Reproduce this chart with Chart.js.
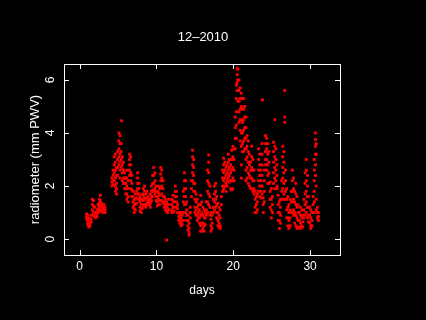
<!DOCTYPE html>
<html>
<head>
<meta charset="utf-8">
<script src="https://cdn.jsdelivr.net/npm/chart.js@4/dist/chart.umd.min.js"></script>
<style>
    body { margin: 0; background: #000; }
    canvas { display: block; }
</style>
</head>
<body>
<canvas id="pwvChart" width="426" height="320"></canvas>
<script>

const chartTitle = '12–2010';
const xTitle = 'days';
const yTitle = 'radiometer (mm PWV)';
const xTicks = [0, 10, 20, 30];
const yTicks = [0, 2, 4, 6];

// sample times (days) and the readings taken around each time
const colDays = [
    0.9, 1.05, 1.2, 1.35, 1.5, 1.65, 1.8, 1.95, 2.1, 2.25, 2.4, 2.55, 2.7, 2.85, 3.0, 3.15, 3.3,
    4.2, 4.35, 4.5, 4.65, 4.8, 4.95, 5.1, 5.25, 5.4, 5.45, 5.55, 5.7, 5.85, 6.0, 6.15, 6.3, 6.5, 6.65, 6.8, 6.95,
    7.1, 7.25, 7.4, 7.55, 7.7, 7.85, 8.0, 8.15, 8.3, 8.45, 8.6, 8.75, 8.9, 9.05, 9.2, 9.35, 9.5, 9.65, 9.8, 9.95,
    10.1, 10.25, 10.4, 10.55, 10.7, 10.85, 11.0, 11.15, 11.3, 11.32, 11.45, 11.6, 12.0, 12.15, 12.3, 12.45, 12.6, 12.75, 12.9,
    13.05, 13.2, 13.35, 13.5, 13.65, 13.8, 13.95, 14.1, 14.25, 14.4, 14.55, 14.7, 14.85, 15.0, 15.15, 15.3, 15.45, 15.6, 15.75, 15.9,
    16.05, 16.2, 16.35, 16.5, 16.65, 16.8, 16.95, 17.1, 17.25, 17.4, 17.55, 17.7, 17.85, 18.0, 18.15, 18.3, 18.45, 18.6, 18.75, 18.9,
    19.05, 19.2, 19.35, 19.5, 19.65, 19.8, 19.95, 20.1, 20.25, 20.4, 20.5, 20.6, 20.75, 20.9, 21.05, 21.2, 21.35, 21.5, 21.65, 21.8, 21.95,
    22.1, 22.25, 22.4, 22.55, 22.7, 22.85, 23.0, 23.15, 23.3, 23.45, 23.6, 23.75, 23.8, 23.9, 24.05, 24.2, 24.35, 24.5, 24.65, 24.8, 24.95,
    25.1, 25.25, 25.4, 25.55, 25.7, 25.85, 26.0, 26.15, 26.3, 26.45, 26.6, 26.7, 26.8, 26.95, 27.1, 27.25, 27.4, 27.55, 27.7, 27.85,
    28.0, 28.15, 28.3, 28.45, 28.6, 28.75, 28.9, 29.05, 29.2, 29.35, 29.5, 29.65, 29.8, 29.95, 30.1, 30.25, 30.4, 30.55, 30.7, 30.8, 30.95, 31.1
];

const colPwv = [
    [0.95, 0.85, 0.75], [0.9, 0.7, 0.6, 0.55], [0.8, 0.6, 0.5, 0.45], [0.75, 0.6, 0.5], [0.9, 0.75, 0.65],
    [1.5, 1.3, 1.1, 0.9], [1.45, 1.25, 1.0], [1.2, 1.0, 0.85], [1.0, 0.9, 0.8], [1.1, 0.95, 0.85],
    [1.3, 1.15, 1.0], [1.5, 1.35, 1.2, 1.05], [1.65, 1.45, 1.25, 1.1], [1.35, 1.2, 1.05], [1.25, 1.1, 1.0],
    [1.3, 1.15, 1.05], [1.2, 1.1, 1.0],
    [2.3, 2.15, 2.0], [2.6, 2.4, 2.2, 2.05], [3.1, 2.8, 2.5, 2.2], [3.2, 2.9, 2.6, 2.3, 2.0, 1.8],
    [2.7, 2.4, 2.1, 1.9, 1.7], [3.3, 3.0, 2.7, 2.4], [4.0, 3.7, 3.4, 3.1, 2.8], [3.9, 3.6, 3.2, 2.9, 2.6, 2.3],
    [3.6, 3.3, 3.0, 2.7], [4.46], [3.1, 2.8, 2.5, 2.2], [2.9, 2.6, 2.3, 2.1], [2.5, 2.3, 2.1, 1.9],
    [2.3, 2.1, 1.9, 1.7], [2.6, 2.3, 2.0, 1.7, 1.5], [2.2, 1.9, 1.6, 1.4], [3.2, 3.0, 2.8, 2.6, 2.4],
    [3.1, 2.8, 2.5, 2.2, 1.9], [2.4, 2.1, 1.85, 1.6], [1.8, 1.6, 1.4, 1.2],
    [1.5, 1.3, 1.15, 1.0], [1.7, 1.5, 1.3, 1.1], [1.8, 1.55, 1.35], [2.5, 2.3, 2.1, 1.9, 1.7], [2.1, 1.9, 1.7, 1.5],
    [1.6, 1.4, 1.2, 1.05], [1.5, 1.3, 1.15, 1.0], [1.7, 1.5, 1.3, 1.15], [1.9, 1.65, 1.45, 1.25], [2.0, 1.8, 1.55, 1.3],
    [1.7, 1.5, 1.3, 1.2], [1.8, 1.55, 1.35], [1.6, 1.45, 1.3], [1.5, 1.4, 1.3], [1.7, 1.5, 1.35, 1.2],
    [2.0, 1.8, 1.6, 1.45], [2.4, 2.1, 1.85, 1.6], [2.7, 2.4, 2.1, 1.8], [2.5, 2.2, 1.9, 1.7], [2.0, 1.8, 1.6, 1.45],
    [1.8, 1.6, 1.4, 1.25], [2.0, 1.75, 1.5, 1.3], [1.9, 1.65, 1.45, 1.3], [2.7, 2.45, 2.2, 1.95], [2.6, 2.3, 2.0, 1.7, 1.45],
    [2.2, 1.9, 1.6, 1.35], [1.6, 1.4, 1.2], [1.5, 1.3, 1.1], [1.4, 1.2, 1.05], [-0.04], [1.3, 1.15, 1.0], [1.5, 1.3, 1.1],
    [1.5, 1.3, 1.1, 1.0], [1.65, 1.45, 1.2, 1.0], [1.4, 1.2, 1.05], [2.0, 1.8, 1.6], [1.8, 1.6, 1.4, 1.2], [1.3, 1.15, 1.0],
    [1.0, 0.85, 0.7],
    [0.9, 0.75, 0.6], [1.0, 0.8, 0.6, 0.5], [0.9, 0.7, 0.55], [1.8, 1.4, 1.0, 0.7], [2.5, 2.2, 1.9, 1.6, 1.3],
    [2.2, 1.9, 1.6, 1.3, 1.0], [1.4, 1.1, 0.9, 0.7], [0.9, 0.7, 0.5, 0.35], [0.6, 0.4, 0.25, 0.15], [1.2, 1.0, 0.8],
    [2.2, 1.9, 1.6], [3.35, 3.1, 2.8, 2.5, 2.2], [3.0, 2.7, 2.4, 2.1, 1.8], [2.1, 1.8, 1.5, 1.2, 1.0],
    [1.7, 1.4, 1.1, 0.9], [1.5, 1.2, 0.9, 0.7], [1.3, 1.0, 0.8], [1.1, 0.8, 0.6], [1.65, 1.3, 0.9, 0.5, 0.3],
    [1.4, 1.0, 0.6, 0.3],
    [1.2, 0.9, 0.6, 0.4], [1.1, 0.8, 0.5, 0.3], [1.0, 0.8, 0.55], [1.4, 1.1, 0.9], [2.6, 2.2, 1.8, 1.4, 1.0],
    [3.17, 2.9, 2.5, 2.1, 1.7, 1.3], [2.0, 1.6, 1.2, 0.9], [1.0, 0.75, 0.5, 0.3], [0.9, 0.6, 0.4], [1.5, 1.2, 1.0],
    [2.0, 1.7, 1.4, 1.1], [2.1, 1.8, 1.5, 1.2], [1.6, 1.3, 1.0, 0.8], [1.35, 1.0, 0.7, 0.5], [1.2, 0.9, 0.6, 0.45],
    [1.1, 0.8, 0.5, 0.4], [1.6, 1.3], [2.6, 2.3, 2.0, 1.8], [3.05, 2.8, 2.5, 2.2, 1.9], [2.9, 2.6, 2.3, 2.0],
    [2.7, 2.4, 2.1, 1.8], [2.8, 2.5, 2.2, 2.0], [3.2, 2.9, 2.6, 2.3], [3.0, 2.7, 2.4, 2.15], [2.8, 2.5, 2.2, 1.9],
    [3.35, 3.0, 2.6, 2.2, 1.85], [3.5, 3.1, 2.7, 2.3, 1.9], [3.4, 3.0, 2.6, 2.2], [4.6, 4.2, 3.8, 3.4],
    [5.8, 5.3, 4.8, 4.3, 3.8], [6.45, 6.2, 5.9, 5.6], [6.4, 6.0, 5.6, 5.2], [6.0, 5.6, 5.2, 4.8, 4.4],
    [5.7, 5.3, 4.9, 4.5, 4.1, 3.7], [5.5, 5.0, 4.5, 4.0, 3.5, 2.8, 2.3], [5.3, 4.9, 4.4, 4.0, 3.6, 3.3],
    [5.3, 4.9, 4.5, 4.1, 3.7, 3.3], [5.0, 4.6, 4.2, 3.8, 3.4], [4.6, 4.2, 3.8, 3.4, 3.0, 2.6, 2.2],
    [3.9, 3.5, 3.1, 2.7, 2.3], [3.7, 3.3, 2.9, 2.5, 2.1],
    [3.2, 2.8, 2.4, 2.0], [2.9, 2.6, 2.3, 1.9], [3.5, 3.1, 2.7, 2.3, 1.9], [3.0, 2.6, 2.2, 1.8], [2.6, 2.2, 1.9, 1.7],
    [1.8, 1.5, 1.2, 1.0], [1.6, 1.3, 1.0], [1.7, 1.4, 1.1], [3.4, 3.0, 2.6, 2.2, 1.8], [3.2, 2.8, 2.4, 2.0, 1.6],
    [2.6, 2.2, 1.8, 1.55], [3.6, 3.2, 2.8, 2.4, 2.0, 1.7], [5.25], [1.55, 1.3, 1.0], [2.6, 2.2, 1.8, 1.4],
    [3.9, 3.6, 3.3, 3.0, 2.8], [3.8, 3.4, 3.0, 2.6], [3.6, 3.2, 2.8, 2.4, 2.1], [3.3, 2.9, 2.5, 2.1],
    [2.15, 1.8, 1.5, 1.2], [1.9, 1.5, 1.1, 0.8],
    [1.6, 1.3, 1.0], [3.65, 3.3, 2.9, 2.5, 2.1], [4.5, 3.5, 3.1, 2.7, 2.3, 1.9], [3.4, 3.0, 2.6, 2.2], [2.8, 2.4, 2.0, 1.9],
    [1.65, 1.3, 1.0, 0.7], [1.4, 1.0, 0.7, 0.4], [1.5, 1.2, 0.9, 0.6], [2.2, 1.8, 1.5], [3.5, 3.1, 2.7, 2.3, 1.9, 1.5],
    [3.3, 2.9, 2.5, 2.1, 1.7], [5.6, 4.6, 4.4], [2.6, 2.2, 1.8, 1.5], [1.9, 1.5, 1.1, 0.8], [1.6, 1.2, 0.8, 0.5],
    [1.3, 1.0, 0.7, 0.4], [1.5, 1.1, 0.8, 0.5], [1.8, 1.4, 1.0], [2.6, 2.2, 1.8, 1.4, 1.0], [2.3, 1.9, 1.5, 1.1, 0.9],
    [1.8, 1.4, 1.0, 0.6], [2.1, 1.7, 1.3, 0.9, 0.5], [1.6, 1.2, 0.8, 0.4], [1.3, 1.0, 0.7, 0.45], [1.0, 0.7, 0.45],
    [1.2, 0.9, 0.6, 0.4], [1.1, 0.8, 0.5], [0.9, 0.65, 0.45], [1.5, 1.1, 0.8], [2.5, 2.1, 1.7, 1.3, 0.9],
    [3.0, 2.6, 2.2, 1.8, 1.4, 1.0], [2.4, 2.0, 1.6, 1.2, 0.8], [1.6, 1.2, 0.9, 0.65], [1.2, 0.9, 0.6],
    [1.1, 0.8, 0.5, 0.4], [1.0, 0.7, 0.5], [1.6, 1.3, 1.0], [3.0, 2.6, 2.2, 1.8, 1.4, 1.0],
    [4.0, 3.75, 3.5, 3.2, 2.8, 2.4], [3.6, 3.2, 2.0, 1.5, 1.1], [1.2, 1.0, 0.8], [1.0, 0.85, 0.7]
];

function buildPoints() {
    let points = [];
    colDays.forEach((day, i) => {
        colPwv[i].forEach(value => {
            points.push({ x: day, y: value });
        });
    });
    return points;
}

// title, box, inward ticks on all four sides, tick labels and axis titles
const framePlugin = {
    id: 'frame',
    afterDraw(chart) {
        const ctx = chart.ctx;
        const area = chart.chartArea;
        const xScale = chart.scales.x;
        const yScale = chart.scales.y;
        const midX = (area.left + area.right) / 2;
        const tick = 5;

        ctx.save();
        ctx.strokeStyle = '#fff';
        ctx.lineWidth = 1;
        ctx.strokeRect(area.left + 0.5, area.top + 0.5, area.right - area.left, area.bottom - area.top);

        ctx.beginPath();
        xTicks.forEach(v => {
            let px = Math.round(xScale.getPixelForValue(v)) + 0.5;
            ctx.moveTo(px, area.bottom);
            ctx.lineTo(px, area.bottom - tick);
            ctx.moveTo(px, area.top);
            ctx.lineTo(px, area.top + tick);
        });
        yTicks.forEach(v => {
            let py = Math.round(yScale.getPixelForValue(v)) + 0.5;
            ctx.moveTo(area.left, py);
            ctx.lineTo(area.left + tick, py);
            ctx.moveTo(area.right, py);
            ctx.lineTo(area.right - tick, py);
        });
        ctx.stroke();

        ctx.fillStyle = '#fff';
        ctx.textAlign = 'center';
        ctx.textBaseline = 'middle';

        ctx.font = '13px "Liberation Sans", Arial, sans-serif';
        ctx.fillText(chartTitle, midX + 1, 37);

        ctx.font = '12px "Liberation Sans", Arial, sans-serif';
        xTicks.forEach(v => {
            ctx.fillText(String(v), xScale.getPixelForValue(v), 267);
        });
        ctx.fillText(xTitle, midX, 291);

        yTicks.forEach(v => {
            ctx.save();
            ctx.translate(51, yScale.getPixelForValue(v));
            ctx.rotate(-Math.PI / 2);
            ctx.fillText(String(v), 0, 0);
            ctx.restore();
        });

        ctx.save();
        ctx.font = '13px "Liberation Sans", Arial, sans-serif';
        ctx.translate(35, (area.top + area.bottom) / 2);
        ctx.rotate(-Math.PI / 2);
        ctx.fillText(yTitle, 0, 0);
        ctx.restore();

        ctx.restore();
    }
};

const ctx = document.getElementById('pwvChart').getContext('2d');
const pwvChart = new Chart(ctx, {
    type: 'scatter',
    data: {
        datasets: [{
            data: buildPoints(),
            backgroundColor: '#ff0000',
            borderWidth: 0,
            pointStyle: 'rect',
            pointRadius: 2,
            pointHoverRadius: 2
        }]
    },
    options: {
        responsive: false,
        animation: false,
        devicePixelRatio: 1,
        layout: { padding: { left: 0, right: 86, top: 64, bottom: 0 } },
        plugins: {
            legend: { display: false },
            tooltip: { enabled: false },
            title: { display: false }
        },
        scales: {
            x: {
                type: 'linear',
                min: -2.04,
                max: 33.9,
                ticks: { display: false },
                grid: { display: false },
                border: { display: false },
                afterFit: scale => { scale.height = 65; }
            },
            y: {
                type: 'linear',
                min: -0.6,
                max: 6.6,
                ticks: { display: false },
                grid: { display: false },
                border: { display: false },
                afterFit: scale => { scale.width = 64; }
            }
        }
    },
    plugins: [framePlugin]
});
</script>
</body>
</html>
